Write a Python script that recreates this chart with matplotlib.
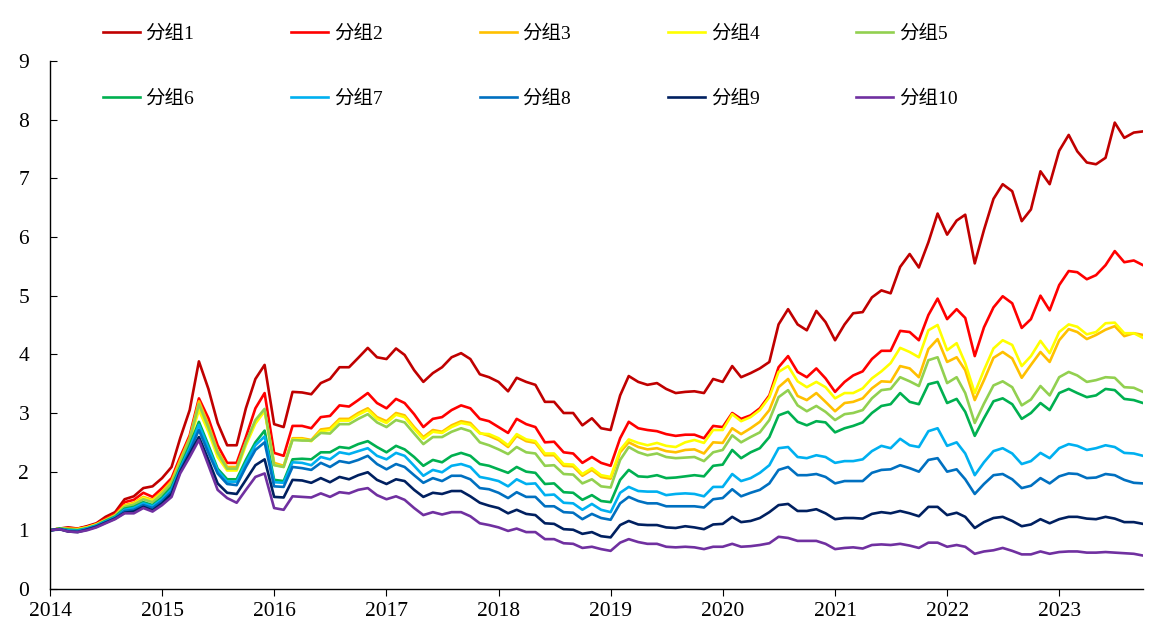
import matplotlib
matplotlib.use("Agg")
import matplotlib.pyplot as plt
import matplotlib.dates as mdates
import pandas as pd

dates = pd.date_range("2014-01-01", periods=118, freq="MS")

g1 = [1.0,1.03,1.05,1.03,1.07,1.12,1.23,1.31,1.53,1.58,1.72,1.75,1.89,2.08,2.57,3.05,
      3.88,3.41,2.83,2.45,2.45,3.08,3.58,3.82,
      2.81,2.76,3.36,3.35,3.32,3.51,3.58,3.78,3.78,3.94,4.11,3.95,
      3.92,4.1,3.99,3.73,3.53,3.68,3.78,3.95,4.02,3.92,3.66,3.61,
      3.53,3.37,3.6,3.53,3.48,3.19,3.19,3.0,3.0,2.79,2.91,2.74,
      2.71,3.3,3.63,3.53,3.48,3.51,3.41,3.34,3.36,3.37,3.34,3.58,
      3.53,3.8,3.61,3.68,3.76,3.87,4.51,4.77,4.51,4.41,4.74,4.55,
      4.24,4.51,4.7,4.72,4.97,5.09,5.04,5.49,5.71,5.48,5.91,6.4,
      6.04,6.28,6.38,5.55,6.12,6.65,6.9,6.78,6.27,6.47,7.12,6.9,
      7.47,7.74,7.46,7.27,7.24,7.35,7.95,7.69,7.78,7.8]
g2 = [1.0,1.03,1.04,1.03,1.06,1.11,1.2,1.28,1.48,1.52,1.64,1.57,1.72,1.89,2.25,2.62,
      3.25,2.91,2.45,2.15,2.15,2.59,3.08,3.34,
      2.32,2.27,2.78,2.78,2.74,2.93,2.95,3.13,3.11,3.22,3.34,3.17,
      3.08,3.24,3.17,2.98,2.76,2.9,2.93,3.05,3.13,3.08,2.9,2.86,
      2.76,2.66,2.9,2.81,2.76,2.5,2.51,2.33,2.31,2.15,2.25,2.15,
      2.1,2.57,2.85,2.74,2.71,2.69,2.64,2.61,2.63,2.63,2.57,2.78,
      2.76,3.0,2.9,2.96,3.08,3.3,3.78,3.97,3.7,3.61,3.76,3.59,
      3.36,3.53,3.64,3.71,3.92,4.06,4.06,4.4,4.38,4.24,4.67,4.95,
      4.6,4.77,4.62,3.97,4.46,4.8,4.99,4.87,4.45,4.6,5.0,4.75,
      5.18,5.42,5.4,5.28,5.35,5.52,5.76,5.57,5.6,5.52]
g3 = [1.0,1.03,1.03,1.02,1.05,1.1,1.18,1.26,1.43,1.47,1.57,1.52,1.66,1.84,2.2,2.58,
      3.2,2.8,2.35,2.08,2.08,2.5,2.85,3.05,
      2.15,2.1,2.57,2.57,2.54,2.72,2.74,2.9,2.9,3.0,3.08,2.93,
      2.86,3.0,2.96,2.76,2.59,2.71,2.68,2.79,2.86,2.83,2.66,2.61,
      2.54,2.42,2.61,2.52,2.49,2.28,2.28,2.1,2.09,1.93,2.03,1.91,
      1.88,2.33,2.5,2.42,2.38,2.4,2.35,2.33,2.37,2.38,2.31,2.5,
      2.49,2.74,2.64,2.74,2.85,3.05,3.44,3.58,3.29,3.22,3.34,3.19,
      3.03,3.17,3.19,3.25,3.42,3.54,3.53,3.8,3.76,3.61,4.09,4.26,
      3.87,3.95,3.73,3.22,3.56,3.94,4.04,3.93,3.6,3.82,4.04,3.87,
      4.24,4.43,4.38,4.26,4.33,4.42,4.48,4.31,4.36,4.33]
g4 = [1.0,1.03,1.02,1.02,1.05,1.1,1.17,1.25,1.41,1.45,1.55,1.5,1.63,1.8,2.15,2.52,
      3.05,2.68,2.25,2.02,2.02,2.45,2.82,3.03,
      2.12,2.08,2.55,2.55,2.52,2.69,2.71,2.87,2.87,2.97,3.05,2.9,
      2.83,2.97,2.93,2.73,2.56,2.68,2.66,2.76,2.83,2.8,2.65,2.64,
      2.57,2.45,2.64,2.55,2.52,2.31,2.31,2.13,2.12,1.96,2.06,1.94,
      1.91,2.37,2.55,2.49,2.45,2.49,2.44,2.42,2.5,2.54,2.49,2.71,
      2.71,2.98,2.86,2.93,3.05,3.27,3.7,3.8,3.54,3.44,3.53,3.44,
      3.25,3.34,3.34,3.42,3.59,3.71,3.85,4.11,4.04,3.95,4.41,4.5,
      4.07,4.19,3.85,3.34,3.73,4.1,4.24,4.16,3.8,3.97,4.23,4.02,
      4.38,4.51,4.47,4.34,4.38,4.53,4.54,4.36,4.36,4.28]
g5 = [1.0,1.03,1.02,1.01,1.04,1.09,1.17,1.25,1.4,1.44,1.53,1.48,1.62,1.8,2.15,2.55,
      3.15,2.75,2.32,2.05,2.05,2.5,2.88,3.07,
      2.11,2.08,2.54,2.53,2.53,2.66,2.65,2.81,2.81,2.9,2.98,2.84,
      2.76,2.88,2.84,2.65,2.47,2.59,2.59,2.68,2.74,2.69,2.5,2.45,
      2.38,2.3,2.42,2.33,2.31,2.1,2.11,1.96,1.95,1.8,1.87,1.75,
      1.73,2.2,2.42,2.33,2.28,2.31,2.25,2.23,2.24,2.25,2.18,2.33,
      2.37,2.62,2.5,2.59,2.67,2.88,3.27,3.39,3.13,3.03,3.12,3.02,
      2.88,2.98,3.0,3.05,3.25,3.39,3.41,3.61,3.54,3.46,3.9,3.95,
      3.51,3.61,3.34,2.83,3.16,3.47,3.54,3.44,3.13,3.23,3.46,3.3,
      3.61,3.7,3.64,3.53,3.56,3.61,3.6,3.44,3.43,3.36]
g6 = [1.0,1.03,1.01,1.0,1.03,1.08,1.16,1.23,1.37,1.4,1.48,1.43,1.56,1.74,2.08,2.45,
      2.85,2.45,2.05,1.87,1.87,2.2,2.5,2.7,
      1.86,1.84,2.21,2.22,2.21,2.33,2.33,2.42,2.4,2.47,2.52,2.42,
      2.33,2.44,2.38,2.25,2.1,2.2,2.16,2.27,2.32,2.27,2.13,2.1,
      2.04,1.98,2.08,2.0,1.98,1.79,1.8,1.65,1.64,1.52,1.6,1.5,
      1.48,1.86,2.03,1.92,1.91,1.94,1.89,1.9,1.92,1.94,1.92,2.1,
      2.12,2.37,2.23,2.33,2.4,2.59,2.96,3.02,2.85,2.79,2.86,2.84,
      2.67,2.74,2.78,2.84,3.0,3.12,3.15,3.34,3.19,3.15,3.49,3.53,
      3.17,3.24,3.02,2.61,2.91,3.2,3.25,3.15,2.9,3.0,3.17,3.05,
      3.34,3.41,3.34,3.27,3.3,3.41,3.39,3.24,3.22,3.17]
g7 = [1.0,1.02,1.0,0.99,1.03,1.08,1.15,1.22,1.35,1.38,1.46,1.41,1.53,1.7,2.05,2.4,
      2.8,2.4,2.02,1.83,1.83,2.15,2.45,2.6,
      1.82,1.81,2.16,2.15,2.11,2.25,2.21,2.33,2.3,2.35,2.4,2.27,
      2.21,2.32,2.27,2.1,1.93,2.03,1.99,2.1,2.13,2.08,1.91,1.88,
      1.84,1.75,1.87,1.79,1.8,1.6,1.61,1.47,1.46,1.35,1.45,1.35,
      1.31,1.64,1.74,1.67,1.66,1.66,1.6,1.62,1.63,1.62,1.58,1.74,
      1.74,1.96,1.84,1.89,1.98,2.11,2.4,2.42,2.25,2.23,2.28,2.25,
      2.15,2.18,2.18,2.21,2.35,2.44,2.4,2.56,2.45,2.42,2.69,2.74,
      2.44,2.5,2.31,1.94,2.16,2.35,2.4,2.31,2.13,2.18,2.32,2.23,
      2.4,2.47,2.44,2.37,2.4,2.45,2.42,2.32,2.31,2.27]
g8 = [1.0,1.02,0.99,0.98,1.02,1.07,1.14,1.21,1.33,1.35,1.43,1.38,1.5,1.66,2.02,2.35,
      2.71,2.32,1.97,1.79,1.77,2.08,2.37,2.5,
      1.75,1.74,2.08,2.06,2.03,2.15,2.08,2.18,2.15,2.2,2.27,2.13,
      2.04,2.13,2.08,1.94,1.81,1.89,1.84,1.93,1.93,1.87,1.72,1.7,
      1.64,1.55,1.65,1.57,1.57,1.41,1.41,1.31,1.3,1.19,1.28,1.21,
      1.18,1.46,1.57,1.5,1.46,1.46,1.41,1.41,1.41,1.41,1.39,1.53,
      1.55,1.7,1.58,1.64,1.69,1.8,2.03,2.08,1.94,1.94,1.96,1.91,
      1.8,1.84,1.84,1.84,1.98,2.03,2.04,2.11,2.06,2.0,2.2,2.23,
      2.0,2.04,1.87,1.62,1.79,1.94,1.96,1.87,1.72,1.76,1.89,1.8,
      1.92,1.97,1.96,1.89,1.9,1.96,1.94,1.86,1.81,1.8]
g9 = [1.0,1.02,0.98,0.97,1.01,1.06,1.13,1.2,1.3,1.32,1.4,1.34,1.46,1.62,2.0,2.3,
      2.59,2.2,1.8,1.64,1.62,1.86,2.11,2.21,
      1.57,1.56,1.86,1.85,1.81,1.89,1.82,1.91,1.87,1.94,1.99,1.86,
      1.79,1.87,1.84,1.69,1.57,1.64,1.62,1.67,1.67,1.58,1.47,1.42,
      1.38,1.29,1.35,1.28,1.26,1.12,1.11,1.02,1.01,0.94,0.97,0.9,
      0.88,1.09,1.16,1.1,1.09,1.09,1.05,1.04,1.07,1.05,1.02,1.1,
      1.11,1.23,1.14,1.16,1.21,1.31,1.43,1.45,1.33,1.33,1.36,1.29,
      1.19,1.21,1.21,1.2,1.28,1.31,1.29,1.33,1.29,1.24,1.4,1.4,
      1.26,1.3,1.23,1.04,1.14,1.21,1.23,1.16,1.07,1.1,1.19,1.12,
      1.19,1.23,1.23,1.2,1.19,1.23,1.2,1.14,1.14,1.11]
g10 = [1.0,1.02,0.98,0.97,1.0,1.05,1.12,1.19,1.29,1.29,1.38,1.32,1.43,1.57,1.97,2.25,
       2.54,2.11,1.69,1.55,1.47,1.69,1.91,1.97,
       1.38,1.35,1.58,1.57,1.56,1.63,1.57,1.65,1.63,1.69,1.72,1.6,
       1.53,1.58,1.52,1.38,1.26,1.31,1.27,1.31,1.31,1.24,1.12,1.09,
       1.05,0.99,1.03,0.97,0.97,0.85,0.85,0.78,0.77,0.7,0.72,0.68,
       0.65,0.79,0.85,0.8,0.77,0.77,0.72,0.71,0.72,0.71,0.68,0.72,
       0.72,0.77,0.72,0.73,0.75,0.78,0.89,0.87,0.82,0.82,0.82,0.77,
       0.68,0.7,0.71,0.69,0.75,0.76,0.75,0.77,0.74,0.7,0.79,0.79,
       0.72,0.75,0.72,0.6,0.64,0.66,0.7,0.65,0.59,0.59,0.64,0.6,
       0.63,0.64,0.64,0.62,0.62,0.63,0.62,0.61,0.6,0.57]

labels = ["分组1", "分组2", "分组3", "分组4", "分组5",
          "分组6", "分组7", "分组8", "分组9", "分组10"]
series = [g1, g2, g3, g4, g5, g6, g7, g8, g9, g10]
colors = ["#C00000", "#FF0000", "#FFC000", "#FFFF00", "#92D050",
          "#00B050", "#00B0F0", "#0070C0", "#002060", "#7030A0"]

fam = ["Liberation Serif", "Noto Sans CJK SC", "DejaVu Sans"]
plt.rcParams["font.family"] = fam

fig = plt.figure(figsize=(11.55, 6.39), dpi=100)
ax = fig.add_axes([50 / 1155, 1 - 589 / 639, (1143 - 50) / 1155, (589 - 61) / 639])

lines = []
for vals, lab, col in zip(series, labels, colors):
    ln, = ax.plot(dates, vals, color=col, lw=1.9, label=lab)
    lines.append(ln)

ax.set_xlim(dates[0], dates[-1])
ax.set_ylim(0, 9)
ax.set_yticks(range(0, 10))
ax.xaxis.set_major_locator(mdates.YearLocator())
ax.xaxis.set_major_formatter(mdates.DateFormatter("%Y"))

for s in ["top", "right"]:
    ax.spines[s].set_visible(False)
for s in ["left", "bottom"]:
    ax.spines[s].set_color("black")
    ax.spines[s].set_linewidth(1.0)

ax.tick_params(axis="y", direction="in", length=5, labelsize=15.5, pad=15)
ax.tick_params(axis="x", direction="out", length=5, labelsize=15.5, pad=4)

# legend is filled column by column: reorder so it reads row by row
ncol = 5
order = []
for c in range(ncol):
    order += [c, c + ncol]
leg = fig.legend([lines[k] for k in order], [labels[k] for k in order],
                 loc="upper left", bbox_to_anchor=(95 / 1155, 1 - 17 / 639),
                 ncol=ncol, frameon=False, fontsize=14, handlelength=1.9,
                 handletextpad=0.3, columnspacing=4.98, labelspacing=2.45,
                 borderaxespad=0)

fig.savefig("out.png", dpi=100)
